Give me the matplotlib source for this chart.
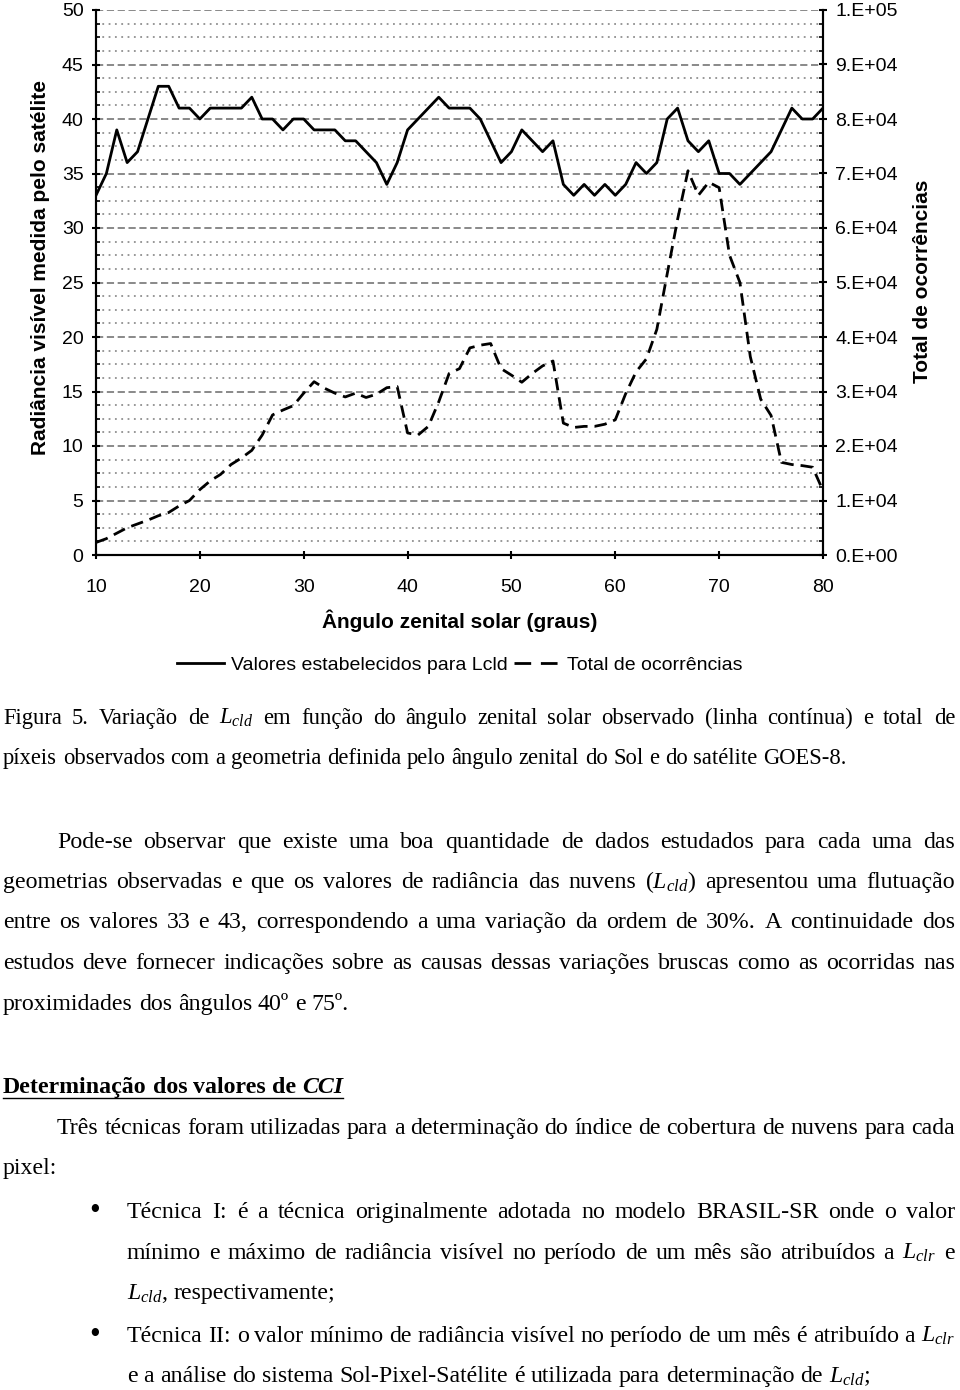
import matplotlib

matplotlib.use("Agg")
import matplotlib.pyplot as plt
from matplotlib.lines import Line2D
from matplotlib.ticker import FuncFormatter, MultipleLocator

plt.rcParams["font.family"] = ["Liberation Sans", "DejaVu Sans"]
plt.rcParams["mathtext.fontset"] = "custom"
plt.rcParams["mathtext.rm"] = "Liberation Serif"
plt.rcParams["mathtext.it"] = "Liberation Serif:italic"
plt.rcParams["mathtext.bf"] = "Liberation Serif:bold"

# --- data ---
angles = list(range(10, 81))
lcld = [33, 35, 39, 36, 37, 40, 43, 43, 41, 41,
        40, 41, 41, 41, 41, 42, 40, 40, 39, 40,
        40, 39, 39, 39, 38, 38, 37, 36, 34, 36,
        39, 40, 41, 42, 41, 41, 41, 40, 38, 36,
        37, 39, 38, 37, 38, 34, 33, 34, 33, 34,
        33, 34, 36, 35, 36, 40, 41, 38, 37, 38,
        35, 35, 34, 35, 36, 37, 39, 41, 40, 40,
        41]
occurrences = [2300, 3000, 4000, 5000, 5700, 6400, 7200, 7800, 9000, 10000,
               12000, 13600, 14800, 16600, 17800, 19200, 22000, 25700, 26600, 27400,
               29700, 31800, 30600, 29700, 29000, 29700, 28900, 29500, 30700, 30900,
               22400, 22000, 23600, 28100, 33300, 34200, 38000, 38500, 38800, 34200,
               33000, 31700, 33300, 34700, 35600, 24200, 23400, 23600, 23600, 24000,
               24800, 29600, 33600, 36000, 41400, 51600, 61600, 70500, 66000, 68400,
               67400, 55000, 50000, 36400, 28600, 25600, 17000, 16600, 16400, 16100,
               11800]

x_label = "Ângulo zenital solar (graus)"
y_label = "Radiância visível medida pelo satélite"
y2_label = "Total de ocorrências"
series_names = ["Valores estabelecidos para Lcld", "Total de ocorrências"]

W, H = 960, 1390


def fx(px):
    return px / W


def fy(py):
    return 1 - py / H


def sci_label(v, pos):
    m, e = f"{v:.0e}".split("e")
    return f"{m}.E{e}"


fig = plt.figure(figsize=(W / 100, H / 100), dpi=100)
ax = fig.add_axes([fx(96), fy(555), 727 / W, 545 / H])
ax2 = ax.twinx()

ax.plot(angles, lcld, color="black", lw=2.0, zorder=3)
ax2.plot(angles, occurrences, color="black", lw=2.0, dashes=(4.5, 2.5))

ax.set_xlim(10, 80)
ax.set_ylim(0, 50)
ax2.set_ylim(0, 100000)
ax.xaxis.set_major_locator(MultipleLocator(10))
ax.yaxis.set_major_locator(MultipleLocator(5))
ax.yaxis.set_minor_locator(MultipleLocator(1.25))
ax2.yaxis.set_major_locator(MultipleLocator(10000))
ax2.yaxis.set_minor_locator(MultipleLocator(2500))
ax2.yaxis.set_major_formatter(FuncFormatter(sci_label))

ax.grid(which="major", axis="y", color="#808080", ls=(0, (4, 2)), lw=1.3)
ax.grid(which="minor", axis="y", color="#909090", ls=(0, (1, 2.5)), lw=1.3)
ax.set_axisbelow(True)

for a in (ax, ax2):
    a.spines["top"].set_visible(False)
    for s in ("left", "right", "bottom"):
        a.spines[s].set_linewidth(1.5)
    a.tick_params(which="major", direction="inout", length=6, width=1.5,
                  labelsize=14, pad=6)
    a.tick_params(which="minor", direction="in", length=3, width=1.2)
ax.tick_params(axis="x", pad=14)

ax.set_xlabel(x_label, fontsize=15, fontweight="bold", va="center")
ax.xaxis.set_label_coords(0.5, -0.121)
ax.set_ylabel(y_label, fontsize=15, fontweight="bold", va="center")
ax.yaxis.set_label_coords(-0.077, 0.527)
ax2.set_ylabel(y2_label, fontsize=15, fontweight="bold", va="center")
ax2.yaxis.set_label_coords(1.137, 0.503)

handles = [Line2D([], [], color="black", lw=2.0),
           Line2D([], [], color="black", lw=2.0, dashes=(6, 3.5))]
fig.legend(handles, series_names, loc="center", bbox_to_anchor=(fx(460), fy(665)),
           ncol=2, frameon=False, fontsize=14, handlelength=2.4,
           handletextpad=0.35, columnspacing=0.3)

# --- page text below the chart ---
renderer = fig.canvas.get_renderer()
BODY = 17.2
CAPTION = 16.3


def text_line(words, x0, y, x1=None, size=BODY, **kw):
    objs = []
    for w in words:
        s, extra = (w if isinstance(w, tuple) else (w, {}))
        opts = dict(fontsize=size, family="Liberation Serif", va="baseline", ha="left")
        opts.update(kw)
        opts.update(extra)
        objs.append(fig.text(fx(x0), fy(y), s, **opts))
    widths = [t.get_window_extent(renderer=renderer).width for t in objs]
    if x1 is None or len(objs) < 2:
        gap = 0.25 * size * 100 / 72
    else:
        gap = (x1 - x0 - sum(widths)) / (len(objs) - 1)
    x = x0
    for t, w in zip(objs, widths):
        t.set_x(fx(x))
        x += w + gap
    return x - gap


L = 3
R = 955
caption = [
    "Figura 5. Variação de $L_{cld}$ em função do ângulo zenital solar observado (linha contínua) e total de",
    "píxeis observados com a geometria definida pelo ângulo zenital do Sol e do satélite GOES-8.",
]
text_line(caption[0].split(" "), L, 724, R, size=CAPTION)
text_line(caption[1].split(" "), L, 764, size=CAPTION)

para = [
    "Pode-se observar que existe uma boa quantidade de dados estudados para cada uma das",
    "geometrias observadas e que os valores de radiância das nuvens ($L_{cld}$) apresentou uma flutuação",
    "entre os valores 33 e 43, correspondendo a uma variação da ordem de 30%. A continuidade dos",
    "estudos deve fornecer indicações sobre as causas dessas variações bruscas como as ocorridas nas",
    "proximidades dos ângulos 40º e 75º.",
]
para_y = [848, 888, 928, 969, 1010]
text_line(para[0].split(" "), 57, para_y[0], R)
for line, y in zip(para[1:4], para_y[1:4]):
    text_line(line.split(" "), L, y, R)
text_line(para[4].split(" "), L, para_y[4])

head_words = ["Determinação", "dos", "valores", "de", ("CCI", {"style": "italic"})]
x_end = text_line(head_words, L, 1093, weight="bold")
fig.add_artist(Line2D([fx(L), fx(x_end)], [fy(1098), fy(1098)], color="black", lw=1.0))

text_line("Três técnicas foram utilizadas para a determinação do índice de cobertura de nuvens para cada".split(" "),
          57, 1134, R)
text_line(["pixel:"], L, 1174)

bullets = [
    ["Técnica I: é a técnica originalmente adotada no modelo BRASIL-SR onde o valor",
     "mínimo e máximo de radiância visível no período de um mês são atribuídos a $L_{clr}$ e",
     "$L_{cld}$, respectivamente;"],
    ["Técnica II: o valor mínimo de radiância visível no período de um mês é atribuído a $L_{clr}$",
     "e a análise do sistema Sol-Pixel-Satélite é utilizada para determinação de $L_{cld}$;"],
]
bullet_y = [[1218, 1259, 1299], [1342, 1382]]
for lines, ys in zip(bullets, bullet_y):
    fig.text(fx(95), fy(ys[0] - 7), "•", fontsize=22, family="Liberation Serif",
             va="center", ha="center")
    for i, (line, y) in enumerate(zip(lines, ys)):
        last = i == len(lines) - 1
        text_line(line.split(" "), 127, y, None if last else R)

fig.savefig("out.png", dpi=100)
